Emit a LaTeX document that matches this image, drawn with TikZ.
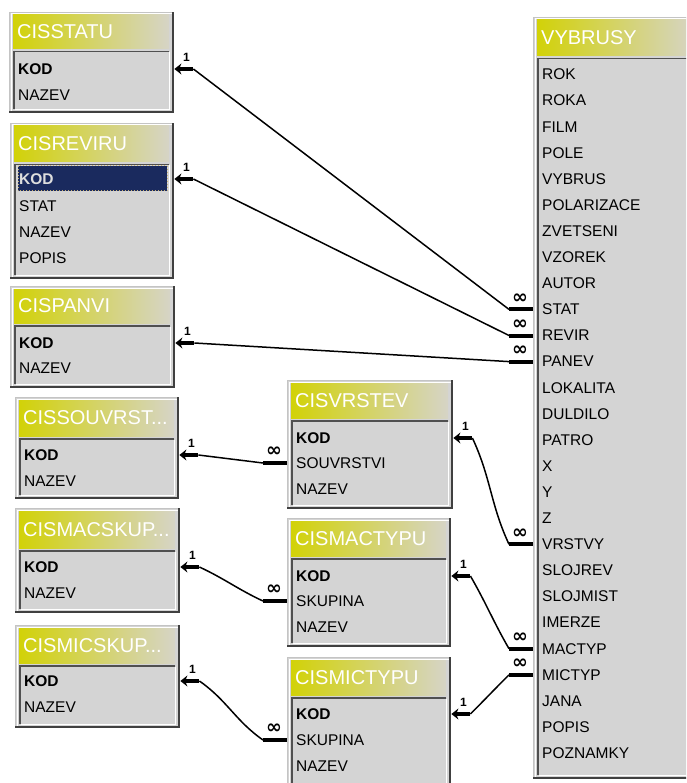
\documentclass[tikz,border=0pt]{standalone}
\usepackage{fontspec}
\setmainfont{Liberation Sans}
\newfontfamily\symfont{DejaVu Sans}
\usetikzlibrary{arrows.meta}
\definecolor{tblbg}{RGB}{212,212,212}
\definecolor{darkedge}{RGB}{64,64,64}
\definecolor{lightedge}{RGB}{196,196,196}
\definecolor{sunk}{RGB}{80,80,80}
\definecolor{hdrY}{RGB}{210,210,8}
\definecolor{hdrG}{RGB}{214,212,198}
\definecolor{navy}{RGB}{26,42,94}
\definecolor{selbrd}{RGB}{200,176,112}
\definecolor{seltext}{RGB}{222,222,222}
\tikzset{
  hdr/.style={anchor=west,text=white,font=\fontsize{20}{20}\selectfont,inner sep=0pt},
  field/.style={anchor=west,inner xsep=9pt,inner ysep=0pt,align=left,font=\fontsize{15.5}{16}\selectfont},
  key/.style={font=\fontsize{15.5}{16}\selectfont\bfseries},
  relline/.style={draw=black,line width=1.5pt},
  onebar/.style={draw=black,line width=4pt,-{Stealth[length=7pt,width=11pt]}},
  manybar/.style={draw=black,line width=4pt},
  onelbl/.style={font=\fontsize{12}{12}\selectfont\bfseries,inner sep=0pt},
  manylbl/.style={font=\symfont\bfseries\fontsize{19}{19}\selectfont,inner sep=0pt}
}
% #1 id, #2 x0, #3 y0, #4 x1, #5 y1, #6 header bottom, #7 title
\newcommand\dbbox[7]{%
  \fill[tblbg] (#2,#3) rectangle (#4,#5);
  \draw[lightedge,line width=1pt] (#2+0.5,#5) -- (#2+0.5,#3+0.5) -- (#4,#3+0.5);
  \draw[white,line width=1pt] (#2+2,#5-2) -- (#2+2,#3+2) -- (#4-2,#3+2);
  \draw[darkedge,line width=2pt] (#2,#5-1) -- (#4-1,#5-1) -- (#4-1,#3);
  \shade[left color=hdrY,right color=hdrG] (#2+4,#3+3) rectangle (#4-5,#6);
  \node[hdr] (#1) at (#2+8,{(#3+3+#6)/2}) {#7};
  \draw[sunk,line width=1.5pt] (#2+4.75,#5-4) -- (#2+4.75,#6+2.75) -- (#4-5,#6+2.75);
  \draw[white,line width=1pt] (#2+5.5,#5-3.5) -- (#4-4.5,#5-3.5) -- (#4-4.5,#6+3.5);
}
% #1 name, #2 x0, #3 x1, #4 y centre, #5 extra style, #6 text
\newcommand\dbfld[6]{%
  \pgfmathsetlengthmacro\dbfw{(#3-#2-18)*1pt}%
  \node[field,#5,text width=\dbfw] (#1) at (#2,#4) {#6};
}
% #1 one side field, #2 many side field, #3 path options
\newcommand\dbrel[3]{%
  \draw[onebar] ([xshift=19pt]#1.east) -- (#1.east);
  \draw[relline] ([xshift=19pt]#1.east) to[#3] ([xshift=-24pt]#2.west);
  \draw[manybar] ([xshift=-24pt]#2.west) -- (#2.west);
  \node[onelbl] at ([xshift=12pt,yshift=12pt]#1.east) {1};
  \node[manylbl] at ([xshift=-13pt,yshift=11pt]#2.west) {∞};
}
\begin{document}
\begin{tikzpicture}[x=1pt,y=-1pt]
\useasboundingbox (0,0) rectangle (686,783);
\clip (0,0) rectangle (686,783);
\fill[white] (0,0) rectangle (686,783);

% CISSTATU
\dbbox{statu}{9}{12}{174}{113}{49}{CISSTATU}
\dbfld{statu-kod}{9}{174}{69}{key}{KOD}
\dbfld{statu-nazev}{9}{174}{95}{}{NAZEV}

% CISREVIRU
\dbbox{revir}{10}{123}{174}{279}{162}{CISREVIRU}
\fill[navy] (18,166) rectangle (167,191);
\draw[selbrd,dotted,line width=1pt] (18,166) rectangle (167,191);
\dbfld{revir-kod}{10}{174}{179}{key,text=seltext}{KOD}
\dbfld{revir-stat}{10}{174}{206}{}{STAT}
\dbfld{revir-nazev}{10}{174}{232}{}{NAZEV}
\dbfld{revir-popis}{10}{174}{258}{}{POPIS}

% CISPANVI
\dbbox{panvi}{10}{286}{175}{388}{323}{CISPANVI}
\dbfld{panvi-kod}{10}{175}{343}{key}{KOD}
\dbfld{panvi-nazev}{10}{175}{368}{}{NAZEV}

% CISSOUVRST...
\dbbox{souvrst}{15}{397}{179}{499}{436}{CISSOUVRST...}
\dbfld{souvrst-kod}{15}{179}{455}{key}{KOD}
\dbfld{souvrst-nazev}{15}{179}{481}{}{NAZEV}

% CISMACSKUP...
\dbbox{macskup}{15}{508}{180}{613}{548}{CISMACSKUP...}
\dbfld{macskup-kod}{15}{180}{567}{key}{KOD}
\dbfld{macskup-nazev}{15}{180}{593}{}{NAZEV}

% CISMICSKUP...
\dbbox{micskup}{15}{625}{180}{728}{663}{CISMICSKUP...}
\dbfld{micskup-kod}{15}{180}{681}{key}{KOD}
\dbfld{micskup-nazev}{15}{180}{707}{}{NAZEV}

% CISVRSTEV
\dbbox{vrstev}{287}{380}{453}{509}{418}{CISVRSTEV}
\dbfld{vrstev-kod}{287}{453}{438}{key}{KOD}
\dbfld{vrstev-souvrstvi}{287}{453}{463}{}{SOUVRSTVI}
\dbfld{vrstev-nazev}{287}{453}{489}{}{NAZEV}

% CISMACTYPU
\dbbox{mactypu}{287}{518}{451}{647}{556}{CISMACTYPU}
\dbfld{mactypu-kod}{287}{451}{576}{key}{KOD}
\dbfld{mactypu-skupina}{287}{451}{601}{}{SKUPINA}
\dbfld{mactypu-nazev}{287}{451}{627}{}{NAZEV}

% CISMICTYPU
\dbbox{mictypu}{287}{657}{451}{792}{695}{CISMICTYPU}
\dbfld{mictypu-kod}{287}{451}{714}{key}{KOD}
\dbfld{mictypu-skupina}{287}{451}{740}{}{SKUPINA}
\dbfld{mictypu-nazev}{287}{451}{766}{}{NAZEV}

% VYBRUSY
\dbbox{vyb}{533}{17}{700}{779}{56}{VYBRUSY}
\foreach \t [count=\i from 0] in {ROK,ROKA,FILM,POLE,VYBRUS,POLARIZACE,ZVETSENI,VZOREK,AUTOR,STAT,REVIR,PANEV,LOKALITA,DULDILO,PATRO,X,Y,Z,VRSTVY,SLOJREV,SLOJMIST,IMERZE,MACTYP,MICTYP,JANA,POPIS,POZNAMKY}{
  \dbfld{vyb-\t}{533}{700}{74.5+26.1*\i}{}{\t}
}

% relationships
\dbrel{statu-kod}{vyb-STAT}{}
\dbrel{revir-kod}{vyb-REVIR}{}
\dbrel{panvi-kod}{vyb-PANEV}{}
\dbrel{souvrst-kod}{vrstev-souvrstvi}{}
\dbrel{macskup-kod}{mactypu-skupina}{out=-25,in=155}
\dbrel{micskup-kod}{mictypu-skupina}{out=-35,in=145}
\dbrel{vrstev-kod}{vyb-VRSTVY}{out=-65,in=115}
\dbrel{mactypu-kod}{vyb-MACTYP}{out=-60,in=120}
\dbrel{mictypu-kod}{vyb-MICTYP}{out=45,in=-135}
\end{tikzpicture}
\end{document}
